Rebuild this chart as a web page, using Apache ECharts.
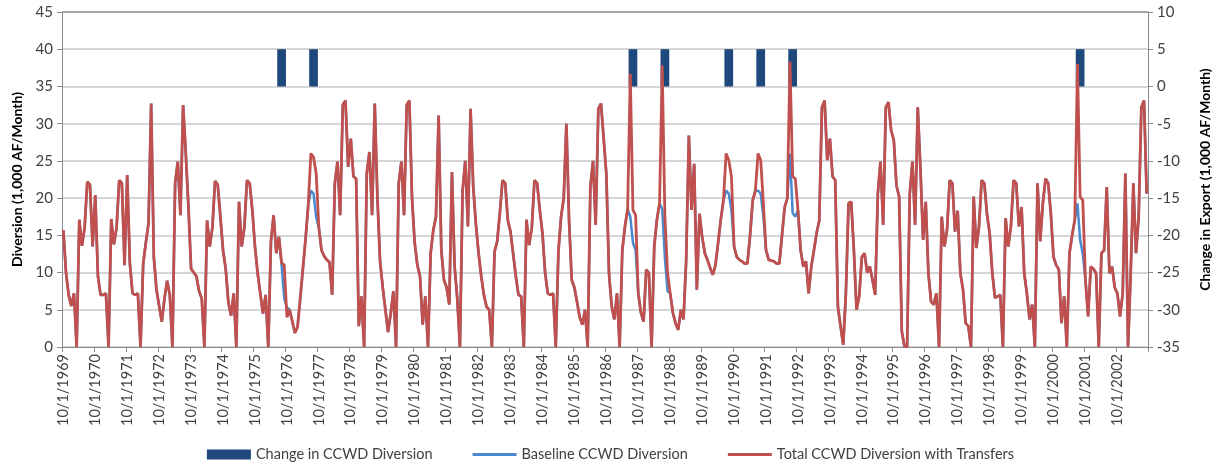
<!DOCTYPE html>
<html>
<head>
<meta charset="utf-8">
<script src="https://cdn.jsdelivr.net/npm/echarts@6/dist/echarts.min.js"></script>
<style>
  html, body { margin: 0; padding: 0; background: #ffffff; }
  #chart { width: 1221px; height: 469px; }
</style>
</head>
<body>
<div id="chart"></div>
<script>
// monthly values, water years Oct 1969 - Sep 2003 (1,000 AF/month)
const totalDiversion = [
  15.7, 10, 7, 5.5, 7.2, 0, 17.1, 13.6, 16, 22.2, 21.8, 13.5,        // WY1970
  20.4, 9.5, 7, 7, 7.2, 0, 17.2, 13.8, 16, 22.4, 22, 11,             // WY1971
  23.1, 11.2, 7.2, 7, 7.2, 0, 11.2, 14, 16.6, 32.7, 12, 7.7,         // WY1972
  5.5, 3.4, 6.5, 8.9, 7, 0, 22, 24.9, 17.7, 32.5, 26, 18.8,          // WY1973
  10.5, 10, 9.5, 7.5, 6.5, 0, 17, 13.5, 16, 22.3, 21.8, 17.5,        // WY1974
  13, 10.5, 6, 4.2, 7.2, 0, 19.5, 13.5, 16, 22.4, 22, 18.4,          // WY1975
  13.5, 9.9, 7.2, 4.5, 7, 0, 14.2, 17.7, 12.6, 14.8, 11.3, 11,       // WY1976
  4, 5, 3.5, 1.9, 2.7, 6.5, 10.5, 14.5, 19, 26, 25.5, 23.3,          // WY1977
  16, 13, 12.2, 11.7, 11.4, 7, 22, 24.9, 17.7, 32.5, 33.1, 24.2,     // WY1978
  28, 22.9, 22.6, 2.8, 6.8, 0, 23.3, 26.2, 17.7, 32.7, 20, 11.5,     // WY1979
  8, 5, 2, 4.5, 7.5, 0, 22, 24.9, 17.7, 32.5, 33.1, 20,              // WY1980
  14, 11, 9.5, 3, 6.8, 0, 12.6, 15.7, 17.5, 31.1, 13, 9,             // WY1981
  8, 5.7, 23.5, 10.8, 6.5, 0, 21, 25, 16.2, 32, 21.5, 16.5,          // WY1982
  12.6, 9.5, 7, 5.4, 5, 0, 12.8, 14.2, 18, 22.4, 22, 17,             // WY1983
  15.5, 12.5, 9.5, 7, 6.8, 0, 17.1, 13.7, 16, 22.4, 22, 18.4,        // WY1984
  15.3, 10, 7.2, 7, 7.2, 0, 12.8, 17.5, 20, 30, 17, 9,               // WY1985
  8, 6, 4, 3, 5, 0, 21.5, 25, 16.4, 32, 32.7, 28,                    // WY1986
  23.3, 9.9, 5.5, 3.7, 7.2, 0, 13, 16.2, 18.5, 36.7, 18.4, 17.7,     // WY1987
  7.2, 4.6, 3.4, 10.4, 9.9, 0, 13.5, 17.1, 19.3, 37.8, 17.5, 10,     // WY1988
  7.2, 4.6, 3.2, 2.3, 5, 3.7, 11.7, 28.4, 18.4, 24.6, 7.7, 17.9,     // WY1989
  14.8, 12.6, 11.7, 10.6, 9.7, 11, 14, 17.1, 19.7, 26, 25.1, 22.9,   // WY1990
  13.5, 12.1, 11.7, 11.5, 11.2, 11.2, 15, 19.7, 21, 26, 25.1, 19.3,  // WY1991
  13, 11.7, 11.6, 11.5, 11.2, 11.2, 15, 18.8, 20, 38.3, 22.9, 22.6,  // WY1992
  18.4, 13, 10.8, 11.5, 7.2, 10.8, 13, 15.3, 17, 32.2, 33.1, 25.1,   // WY1993
  28, 22.9, 22.4, 5.4, 2.8, 0.3, 7.2, 19.3, 19.5, 13, 5, 6.8,        // WY1994
  12.1, 12.6, 10, 10.8, 9, 7, 20.6, 24.9, 16.4, 32.2, 32.9, 29.1,    // WY1995
  27.8, 21.7, 20.2, 2.1, 0.1, 0, 20.6, 24.9, 16.4, 32.2, 24, 14.4,   // WY1996
  19.5, 9.9, 6.1, 5.7, 7.2, 0, 17.5, 13.5, 15.7, 22.4, 22, 15.5,     // WY1997
  18.3, 9.9, 7.7, 3.2, 2.8, 0, 20.2, 13.3, 16.2, 22.4, 22, 17.9,     // WY1998
  15.3, 10, 6.6, 6.8, 7, 0, 17.3, 13.5, 16.2, 22.4, 22, 16.2,        // WY1999
  18.8, 9.9, 7.2, 3.7, 5.7, 0, 22, 14.2, 19.3, 22.6, 22, 17.9,       // WY2000
  12.1, 11, 10.4, 3.2, 6.8, 0, 12.6, 15, 17.1, 38, 20.2, 19.7,       // WY2001
  9, 4.1, 10.8, 10.5, 9.9, 0, 12.6, 13, 21.5, 9.9, 10.8, 8,          // WY2002
  7.2, 4.1, 7.2, 23.3, 0, 9.9, 22, 12.6, 17.5, 32.2, 33.1, 20.6      // WY2003
];

// months where the baseline (no transfer) diversion differs from the total
const baselineDiffs = [
  ['8/1/1976', 11], ['9/1/1976', 6.5], ['10/1/1976', 5.3],
  ['7/1/1977', 21], ['8/1/1977', 20.6], ['9/1/1977', 17.4],
  ['7/1/1987', 17.5], ['8/1/1987', 14], ['9/1/1987', 13],
  ['7/1/1988', 18.5], ['8/1/1988', 12], ['9/1/1988', 7.5],
  ['7/1/1990', 21], ['8/1/1990', 20.6], ['9/1/1990', 18.4],
  ['7/1/1991', 21], ['8/1/1991', 20.6], ['9/1/1991', 17.5],
  ['7/1/1992', 26], ['8/1/1992', 18], ['9/1/1992', 17.5],
  ['7/1/2001', 19.3], ['8/1/2001', 14.4], ['9/1/2001', 12.5]
];

// change in CCWD diversion (right axis)
const changeDiversion = [
  ['7/1/1976', 5], ['8/1/1976', 5], ['9/1/1976', 5],
  ['7/1/1977', 5], ['8/1/1977', 5], ['9/1/1977', 5],
  ['7/1/1987', 5], ['8/1/1987', 5], ['9/1/1987', 5],
  ['7/1/1988', 5], ['8/1/1988', 5], ['9/1/1988', 5],
  ['7/1/1990', 5], ['8/1/1990', 5], ['9/1/1990', 5],
  ['7/1/1991', 5], ['8/1/1991', 5], ['9/1/1991', 5],
  ['7/1/1992', 5], ['8/1/1992', 5], ['9/1/1992', 5],
  ['7/1/2001', 5], ['8/1/2001', 5], ['9/1/2001', 5]
];

// month labels 10/1/1969 ... 9/1/2003
const months = [];
for (let i = 0; i < totalDiversion.length; i++) {
  const m = (9 + i) % 12 + 1;
  const y = 1969 + Math.floor((9 + i) / 12);
  months.push(m + '/1/' + y);
}

const baseline = totalDiversion.slice();
baselineDiffs.forEach(([label, v]) => { baseline[months.indexOf(label)] = v; });

const changeBars = months.map(() => null);
changeDiversion.forEach(([label, v]) => { changeBars[months.indexOf(label)] = v; });

const FONT = 'Lato';
const gridColors = ['#c8c8c8', '#c8c8c8', '#c8c8c8', '#c8c8c8', '#c8c8c8',
  '#c8c8c8', '#c8c8c8', '#c8c8c8', '#c8c8c8', '#8a8a8a'];
const lineIcon = 'path://M0,0L44,0L44,3L0,3Z';

const chart = echarts.init(document.getElementById('chart'));

chart.setOption({
  backgroundColor: '#ffffff',
  animation: false,
  textStyle: { fontFamily: FONT },
  grid: { left: 62, right: 73, top: 12, bottom: 122 },
  legend: {
    bottom: 2,
    left: 'center',
    itemWidth: 44,
    itemHeight: 10,
    itemGap: 40,
    textStyle: { fontFamily: FONT, fontSize: 14.5, color: '#404040' },
    data: [
      { name: 'Change in CCWD Diversion', icon: 'rect' },
      { name: 'Baseline CCWD Diversion', icon: lineIcon },
      { name: 'Total CCWD Diversion with Transfers', icon: lineIcon }
    ]
  },
  xAxis: {
    type: 'category',
    data: months,
    boundaryGap: true,
    axisLine: { lineStyle: { color: '#8a8a8a', width: 1 } },
    axisTick: { show: true, interval: 11, length: 5, lineStyle: { color: '#8a8a8a' } },
    axisLabel: {
      interval: 11,
      rotate: 90,
      margin: 7,
      fontFamily: FONT,
      fontSize: 14.5,
      color: '#404040'
    },
    splitLine: { show: false }
  },
  yAxis: [
    {
      type: 'value',
      min: 0,
      max: 45,
      interval: 5,
      name: 'Diversion (1,000 AF/Month)',
      nameLocation: 'middle',
      nameRotate: 90,
      nameGap: 36,
      nameTextStyle: { fontFamily: FONT, fontSize: 14, fontWeight: 'bold', color: '#000000' },
      axisLine: { show: true, lineStyle: { color: '#8a8a8a' } },
      axisTick: { show: true, length: 5, lineStyle: { color: '#8a8a8a' } },
      axisLabel: { fontFamily: FONT, fontSize: 15, color: '#404040', margin: 9 },
      splitLine: { show: true, lineStyle: { color: gridColors, width: 1.5 } }
    },
    {
      type: 'value',
      min: -35,
      max: 10,
      interval: 5,
      position: 'right',
      name: 'Change in Export (1,000 AF/Month)',
      nameLocation: 'middle',
      nameRotate: 90,
      nameGap: 50,
      nameTextStyle: { fontFamily: FONT, fontSize: 14, fontWeight: 'bold', color: '#000000' },
      axisLine: { show: true, lineStyle: { color: '#8a8a8a' } },
      axisTick: { show: true, length: 5, lineStyle: { color: '#8a8a8a' } },
      axisLabel: { fontFamily: FONT, fontSize: 15, color: '#404040', margin: 9 },
      splitLine: { show: false }
    }
  ],
  series: [
    {
      name: 'Change in CCWD Diversion',
      type: 'bar',
      yAxisIndex: 1,
      data: changeBars,
      barWidth: 3.4,
      itemStyle: { color: '#1f497d' }
    },
    {
      name: 'Baseline CCWD Diversion',
      type: 'line',
      data: baseline,
      symbol: 'none',
      lineStyle: { color: '#4a89d0', width: 2.5 },
      itemStyle: { color: '#4a89d0' }
    },
    {
      name: 'Total CCWD Diversion with Transfers',
      type: 'line',
      data: totalDiversion,
      symbol: 'none',
      lineStyle: { color: '#c0504d', width: 2.8 },
      itemStyle: { color: '#c0504d' }
    }
  ]
});
</script>
</body>
</html>
